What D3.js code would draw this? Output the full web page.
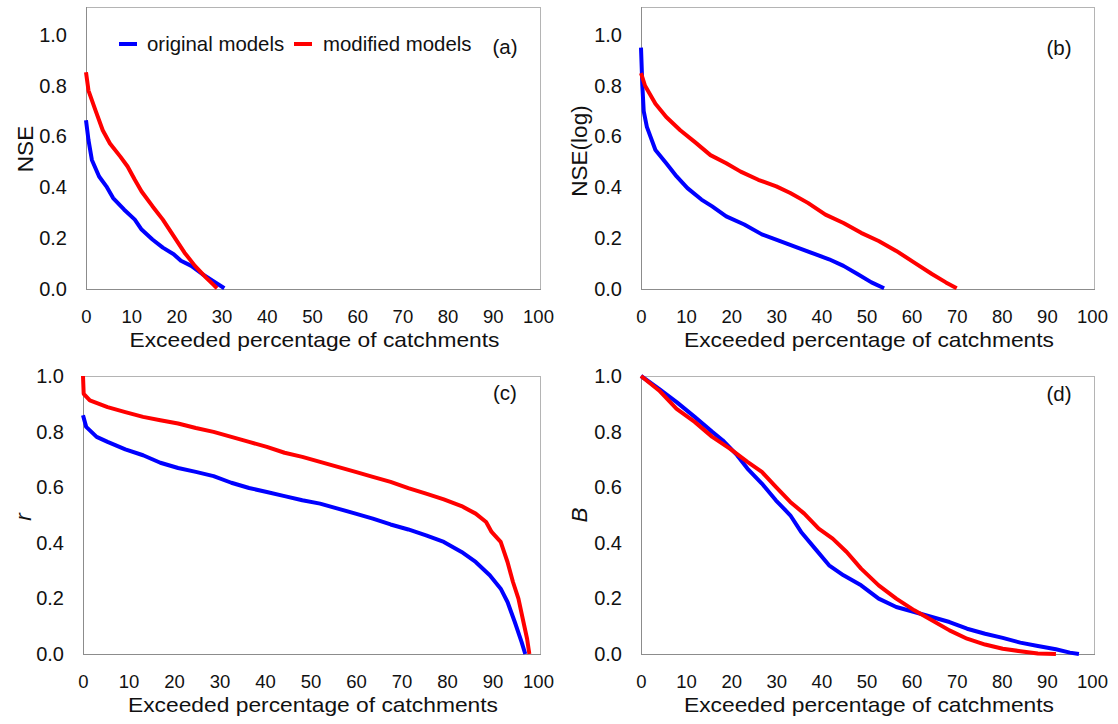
<!DOCTYPE html>
<html>
<head>
<meta charset="utf-8">
<script src="https://cdn.jsdelivr.net/npm/d3@7"></script>
<style>
  body { margin: 0; background: #fff; }
  svg { font-family: "Liberation Sans", Arial, sans-serif; }
  .tick text { fill: #111; }
</style>
</head>
<body>
<svg id="chart" width="1118" height="724"></svg>
<script>
// exceeded percentage of catchments [%] vs metric value
const xTicks = [0, 10, 20, 30, 40, 50, 60, 70, 80, 90, 100];
const yTicks = [0, 0.2, 0.4, 0.6, 0.8, 1.0];
const seriesNames = ['original models', 'modified models'];
const seriesColors = ['#0000ff', '#ff0000'];

// (a) NSE
const nseOrig = [[0,0.664],[0.55,0.586],[1.3,0.508],[2.9,0.443],[4.5,0.404],[6.0,0.358],[8.4,0.313],[10.8,0.273],[12.3,0.234],[14.7,0.195],[17,0.163],[19.4,0.137],[21,0.111],[23.3,0.091],[25.7,0.059],[28,0.033],[30.6,0.003]];
const nseMod = [[0,0.853],[0.55,0.781],[2.1,0.703],[3.7,0.625],[5.3,0.573],[7.6,0.521],[9.2,0.482],[10.8,0.430],[12.3,0.384],[14.7,0.326],[17,0.273],[19.4,0.208],[21.8,0.143],[24.1,0.091],[26.5,0.046],[28,0.020],[29,0.003]];

// (b) NSE(log)
const nseLogOrig = [[0,0.95],[0.3,0.80],[0.6,0.70],[1.3,0.638],[3.2,0.547],[5.6,0.495],[7.9,0.443],[10.3,0.397],[13.4,0.352],[15.7,0.326],[18.9,0.286],[22.9,0.254],[26.8,0.215],[30.7,0.189],[34.7,0.163],[38.6,0.137],[41.7,0.117],[44.9,0.091],[48,0.059],[51.1,0.026],[53.9,0.003]];
const nseLogMod = [[0,0.85],[0.9,0.80],[3.2,0.729],[5.6,0.677],[8.7,0.625],[11.9,0.579],[15.4,0.527],[18.9,0.495],[22.1,0.462],[26,0.430],[30,0.404],[33.1,0.378],[37,0.339],[40.9,0.293],[44.9,0.260],[48.8,0.221],[52.7,0.189],[56.6,0.150],[60.6,0.104],[64.5,0.059],[67.6,0.026],[70,0.003]];

// (c) r
const rOrig = [[0,0.859],[0.7,0.817],[3,0.781],[5.4,0.763],[9.3,0.736],[13.2,0.715],[17,0.688],[20.9,0.669],[24.8,0.655],[28.7,0.640],[32.6,0.616],[36.5,0.597],[40.4,0.583],[44.3,0.568],[48.2,0.553],[52.1,0.541],[56,0.523],[59.9,0.505],[63.7,0.487],[67.6,0.466],[71.5,0.448],[75.4,0.427],[79.3,0.403],[83.2,0.367],[86.3,0.331],[89.4,0.283],[91.8,0.235],[93.3,0.187],[94.9,0.115],[96.4,0.043],[97.2,0]];
const rMod = [[0,1.0],[0.15,0.936],[1.5,0.912],[5.4,0.888],[9.3,0.870],[13.2,0.853],[17,0.841],[20.9,0.829],[24.8,0.813],[28.7,0.799],[32.6,0.781],[36.5,0.763],[40.4,0.745],[44.3,0.724],[48.2,0.709],[52.1,0.691],[56,0.673],[59.9,0.655],[63.7,0.637],[67.6,0.619],[71.5,0.597],[75.4,0.577],[79.3,0.556],[83.2,0.532],[86.3,0.505],[88.6,0.475],[89.8,0.439],[91.8,0.403],[93.3,0.331],[94.5,0.259],[95.7,0.199],[96.8,0.115],[97.6,0.055],[98.1,0]];

// (d) B
const bOrig = [[0,1.0],[4,0.954],[7.9,0.906],[11.9,0.853],[15.8,0.799],[18.1,0.769],[21.3,0.715],[23.6,0.667],[26.8,0.613],[29.9,0.553],[33.1,0.499],[35.5,0.439],[38.6,0.379],[41.7,0.319],[44.9,0.283],[48.8,0.247],[52.7,0.199],[56.6,0.169],[60.6,0.151],[64.5,0.133],[68.4,0.115],[72.3,0.091],[76.3,0.073],[80.2,0.058],[84.1,0.041],[88,0.029],[92,0.017],[95.1,0.005],[97.1,0]];
const bMod = [[0,1.0],[4,0.948],[7.9,0.882],[11.9,0.835],[15.8,0.781],[19.7,0.739],[23.6,0.691],[26.8,0.655],[29.9,0.601],[33.1,0.547],[36.2,0.505],[39.4,0.451],[42.5,0.415],[45.6,0.367],[48.8,0.307],[52.7,0.247],[56.6,0.199],[60.6,0.157],[64.5,0.121],[68.4,0.085],[72.3,0.055],[76.3,0.034],[80.2,0.019],[84.1,0.010],[88,0.002],[92,0]];

const xTitle = 'Exceeded percentage of catchments';

const panels = [
	{ tag: '(a)', ylab: 'NSE', italic: false, ymax: 1.11, left: 86, right: 541, top: 7, bottom: 289, ylabX: 25, ylabY: 149, tagY: 47, data: [nseOrig, nseMod], legend: true },
	{ tag: '(b)', ylab: 'NSE(log)', italic: false, ymax: 1.11, left: 641, right: 1095, top: 7, bottom: 289, ylabX: 579, ylabY: 151, tagY: 48, data: [nseLogOrig, nseLogMod] },
	{ tag: '(c)', ylab: 'r', italic: true, ymax: 1.0, left: 83, right: 541, top: 376, bottom: 654, ylabX: 23, ylabY: 517, tagY: 393, data: [rOrig, rMod] },
	{ tag: '(d)', ylab: 'B', italic: true, ymax: 1.0, left: 641, right: 1095, top: 376, bottom: 654, ylabX: 579, ylabY: 515, tagY: 394, data: [bOrig, bMod] }
];

const svg = d3.select('#chart');

const drawPanel = (p) => {
	const x = d3.scaleLinear().domain([0, 100]).range([p.left, p.right - 3]);
	const y = d3.scaleLinear().domain([0, p.ymax]).range([p.bottom, p.top]);
	const g = svg.append('g');

	// frame
	g.append('line').attr('x1', p.left).attr('x2', p.right).attr('y1', p.top + 0.5).attr('y2', p.top + 0.5).attr('stroke', '#b4b4b4');
	g.append('line').attr('x1', p.right - 0.5).attr('x2', p.right - 0.5).attr('y1', p.top).attr('y2', p.bottom).attr('stroke', '#b4b4b4');
	g.append('line').attr('x1', p.left + 0.5).attr('x2', p.left + 0.5).attr('y1', p.top).attr('y2', p.bottom).attr('stroke', '#8c8c8c');
	g.append('line').attr('x1', p.left).attr('x2', p.right).attr('y1', p.bottom + 0.5).attr('y2', p.bottom + 0.5).attr('stroke', '#8c8c8c');

	const xAxis = g.append('g')
		.attr('transform', `translate(0,${p.bottom})`)
		.call(d3.axisBottom(x).tickValues(xTicks).tickSize(0).tickPadding(21));
	xAxis.select('.domain').remove();
	xAxis.selectAll('text').attr('font-size', 18.5).attr('font-family', null);

	const yAxis = g.append('g')
		.attr('transform', `translate(${p.left},0)`)
		.call(d3.axisLeft(y).tickValues(yTicks).tickFormat(d3.format('.1f')).tickSize(0).tickPadding(19));
	yAxis.select('.domain').remove();
	yAxis.selectAll('text').attr('font-size', 20).attr('font-family', null);

	const line = d3.line().x(d => x(d[0])).y(d => y(d[1]));
	p.data.forEach((s, i) => {
		g.append('path')
			.datum(s)
			.attr('fill', 'none')
			.attr('stroke', seriesColors[i])
			.attr('stroke-width', 4)
			.attr('stroke-linejoin', 'round')
			.attr('d', line);
	});

	g.append('text')
		.attr('x', (p.left + p.right) / 2 + 1)
		.attr('y', p.bottom + 51)
		.attr('dy', '0.35em')
		.attr('text-anchor', 'middle')
		.attr('font-size', 21)
		.attr('textLength', 370)
		.attr('lengthAdjust', 'spacingAndGlyphs')
		.attr('fill', '#111')
		.text(xTitle);

	g.append('text')
		.attr('transform', `translate(${p.ylabX},${p.ylabY}) rotate(-90)`)
		.attr('dy', '0.35em')
		.attr('text-anchor', 'middle')
		.attr('font-size', 22.5)
		.attr('font-style', p.italic ? 'italic' : 'normal')
		.attr('fill', '#111')
		.text(p.ylab);

	g.append('text')
		.attr('x', p.right - 36)
		.attr('y', p.tagY)
		.attr('dy', '0.35em')
		.attr('text-anchor', 'middle')
		.attr('font-size', 20.5)
		.attr('fill', '#111')
		.text(p.tag);

	if (p.legend) {
		const items = [{ x1: 119, tx: 147 }, { x1: 294, tx: 323 }];
		items.forEach((it, i) => {
			g.append('line')
				.attr('x1', it.x1).attr('x2', it.x1 + 18)
				.attr('y1', 44).attr('y2', 44)
				.attr('stroke', seriesColors[i]).attr('stroke-width', 4);
			g.append('text')
				.attr('x', it.tx).attr('y', 44).attr('dy', '0.35em')
				.attr('font-size', 20.4).attr('fill', '#111')
				.text(seriesNames[i]);
		});
	}
};

panels.forEach(drawPanel);
</script>
</body>
</html>
